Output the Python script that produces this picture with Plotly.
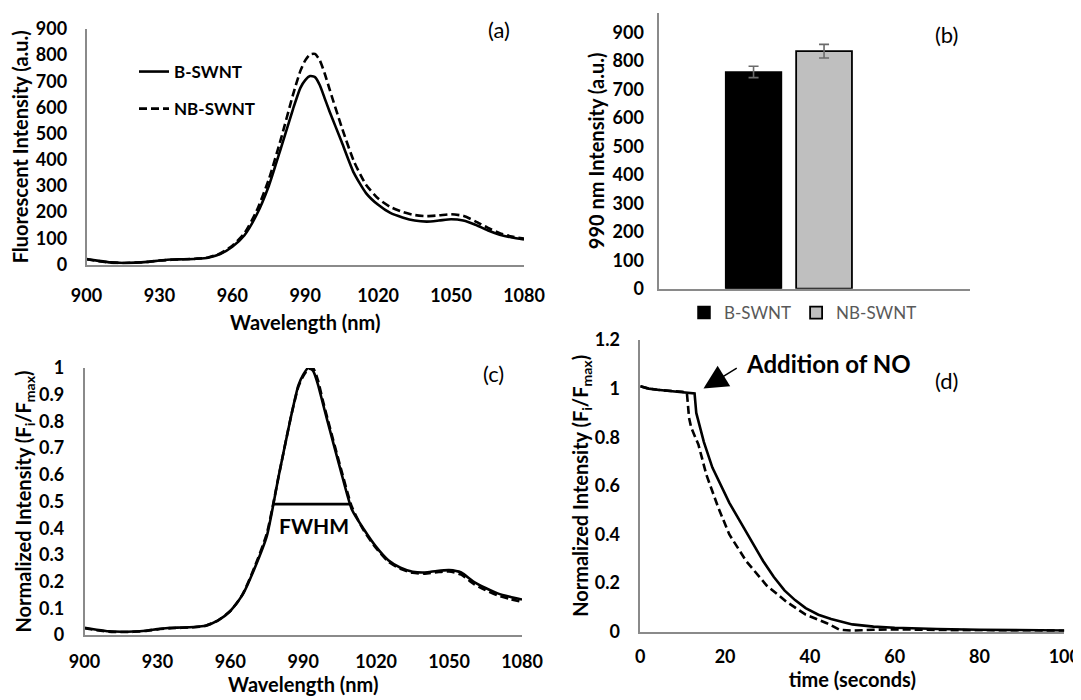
import plotly.graph_objects as go

# ---------------- data ----------------
wavelength_nm = [900, 905, 910, 915, 920, 925, 930, 935, 940, 945, 950, 955, 960, 965, 970, 975, 980, 985,
                 988, 990, 992, 994, 996, 998, 1000, 1005, 1010, 1015, 1020, 1025, 1030, 1035, 1040, 1045,
                 1050, 1055, 1060, 1065, 1070, 1075, 1080]

# (a) fluorescence spectra (a.u.)
a_b_swnt = [21, 14, 8, 6, 7, 10, 15, 19, 20, 22, 26, 40, 68, 112, 190, 300, 445, 595,
            675, 705, 720, 716, 685, 635, 585, 468, 350, 273, 228, 197, 180, 168, 164, 168,
            173, 168, 152, 131, 114, 103, 96]
a_nb_swnt = [20, 13, 7, 6, 7, 10, 15, 18, 20, 22, 27, 42, 72, 120, 205, 325, 480, 650,
             740, 780, 803, 805, 780, 730, 670, 525, 395, 305, 252, 220, 201, 189, 185, 188,
             192, 186, 165, 141, 120, 107, 99]

# (c) normalized spectra (Fi/Fmax)
c_b_swnt = [0.027, 0.020, 0.014, 0.012, 0.013, 0.016, 0.022, 0.027, 0.028, 0.030, 0.036, 0.055, 0.09, 0.15,
            0.25, 0.37, 0.60, 0.82, 0.935, 0.975, 1.0, 0.99, 0.94, 0.87, 0.80, 0.63, 0.47, 0.395, 0.33,
            0.28, 0.252, 0.237, 0.234, 0.240, 0.243, 0.234, 0.200, 0.176, 0.156, 0.143, 0.133]
c_nb_swnt = [0.025, 0.018, 0.012, 0.011, 0.012, 0.015, 0.021, 0.025, 0.027, 0.029, 0.035, 0.055, 0.09, 0.152,
             0.255, 0.38, 0.60, 0.82, 0.93, 0.97, 0.995, 1.0, 0.955, 0.88, 0.81, 0.64, 0.48, 0.39, 0.325,
             0.275, 0.248, 0.233, 0.230, 0.235, 0.238, 0.226, 0.192, 0.168, 0.148, 0.135, 0.124]
fwhm_nm = [978, 1009.5]
fwhm_level = [0.49, 0.49]

# (b) 990 nm intensity
bar_series = ["B-SWNT", "NB-SWNT"]
bar_values = [761, 834]
bar_errors = [20, 24]

# (d) quenching kinetics
time_b = [0, 2, 4, 6, 8, 10, 12, 12.8, 13.2, 14, 15, 17, 19, 21, 23.5, 26, 29, 31.5, 34, 36.5, 39,
          42, 45, 50, 55, 60, 65, 70, 80, 90, 100]
d_b_swnt = [1.01, 1.0, 0.995, 0.992, 0.99, 0.987, 0.983, 0.98, 0.90, 0.85, 0.78, 0.675, 0.60, 0.53, 0.455,
            0.38, 0.29, 0.225, 0.17, 0.13, 0.097, 0.07, 0.052, 0.03, 0.021, 0.016, 0.013, 0.011, 0.008,
            0.006, 0.005]
time_nb = [0, 2, 4, 6, 8, 10, 11, 11.5, 12, 13.7, 15.6, 18.4, 21, 25, 29.8, 34.5, 39, 44, 47, 50, 55,
           60, 70, 80, 90, 100]
d_nb_swnt = [1.01, 1.0, 0.995, 0.992, 0.99, 0.987, 0.98, 0.88, 0.84, 0.77, 0.645, 0.51, 0.40, 0.29, 0.19,
             0.123, 0.07, 0.035, 0.008, 0.004, 0.008, 0.010, 0.007, 0.005, 0.004, 0.004]

wl_ticks = [900, 930, 960, 990, 1020, 1050, 1080]
a_yticks = [0, 100, 200, 300, 400, 500, 600, 700, 800, 900]
c_yticks = [0, 0.1, 0.2, 0.3, 0.4, 0.5, 0.6, 0.7, 0.8, 0.9, 1]
d_xticks = [0, 20, 40, 60, 80, 100]
d_yticks = [0, 0.2, 0.4, 0.6, 0.8, 1, 1.2]

# ---------------- layout helpers ----------------
# the page body has an 8px margin, so the figure is sized to fill the 1081x700 window from (8, 8)
OFF = 8
FW, FH = 1081 - OFF, 700 - OFF
FONT = "Lato, 'Open Sans', sans-serif"


def fx(p):
    return (p - OFF) / FW


def fy(p):
    return 1 - (p - OFF) / FH


LINE_W = 2.6
DASH = "8px,4px"

fig = go.Figure()

# (a)
fig.add_trace(go.Scatter(x=wavelength_nm, y=a_b_swnt, mode="lines", name="B-SWNT",
                         line=dict(color="black", width=LINE_W, shape="spline", smoothing=0.6),
                         xaxis="x", yaxis="y", legend="legend", legendgroup="b"))
fig.add_trace(go.Scatter(x=wavelength_nm, y=a_nb_swnt, mode="lines", name="NB-SWNT",
                         line=dict(color="black", width=LINE_W, dash=DASH, shape="spline", smoothing=0.6),
                         xaxis="x", yaxis="y", legend="legend", legendgroup="nb"))

# (b)
fig.add_trace(go.Bar(x=[0], y=[bar_values[0]], name=bar_series[0],
                     marker=dict(color="black", line=dict(color="black", width=1.5)),
                     error_y=dict(type="data", array=[bar_errors[0]], color="#6b6b6b", thickness=1.6, width=5),
                     xaxis="x2", yaxis="y2", legend="legend2"))
fig.add_trace(go.Bar(x=[0], y=[bar_values[1]], name=bar_series[1],
                     marker=dict(color="#bfbfbf", line=dict(color="black", width=1.8)),
                     error_y=dict(type="data", array=[bar_errors[1]], color="#6b6b6b", thickness=1.6, width=5),
                     xaxis="x2", yaxis="y2", legend="legend2"))

# (c)
fig.add_trace(go.Scatter(x=wavelength_nm, y=c_nb_swnt, mode="lines", name="NB-SWNT",
                         line=dict(color="black", width=LINE_W, dash=DASH, shape="spline", smoothing=0.6),
                         xaxis="x3", yaxis="y3", showlegend=False))
fig.add_trace(go.Scatter(x=wavelength_nm, y=c_b_swnt, mode="lines", name="B-SWNT",
                         line=dict(color="black", width=LINE_W, shape="spline", smoothing=0.6),
                         xaxis="x3", yaxis="y3", showlegend=False))
fig.add_trace(go.Scatter(x=fwhm_nm, y=fwhm_level, mode="lines", name="FWHM",
                         line=dict(color="black", width=2.6),
                         xaxis="x3", yaxis="y3", showlegend=False))

# (d)
fig.add_trace(go.Scatter(x=time_nb, y=d_nb_swnt, mode="lines", name="NB-SWNT",
                         line=dict(color="black", width=LINE_W, dash=DASH),
                         xaxis="x4", yaxis="y4", showlegend=False))
fig.add_trace(go.Scatter(x=time_b, y=d_b_swnt, mode="lines", name="B-SWNT",
                         line=dict(color="black", width=LINE_W),
                         xaxis="x4", yaxis="y4", showlegend=False))

tickfont = dict(family=FONT, size=18, color="black", weight="bold")
titlefont = dict(family=FONT, size=20, color="black", weight="bold")
axis_common = dict(showline=True, linecolor="#8a8a8a", linewidth=1.5, showgrid=False, zeroline=False,
                   ticks="", tickfont=tickfont, fixedrange=True, automargin=False)

fig.update_layout(
    template="none",
    width=FW, height=FH,
    margin=dict(l=0, r=0, t=0, b=0, autoexpand=False),
    paper_bgcolor="white", plot_bgcolor="white",
    font=dict(family=FONT, color="black"),
    hovermode=False,
    barmode="group", bargap=0.0924, bargroupgap=0.2085,
    xaxis=dict(axis_common, domain=[fx(86.5), fx(524)], range=[900, 1080], tickvals=wl_ticks,
               ticklabelstandoff=14, anchor="y",
               title=dict(text="Wavelength (nm)", font=titlefont, standoff=11)),
    yaxis=dict(axis_common, domain=[fy(264.5), fy(29)], range=[0, 900], tickvals=a_yticks,
               ticklabelstandoff=14, anchor="x",
               title=dict(text="Fluorescent Intensity (a.u.)", font=titlefont, standoff=4)),
    xaxis2=dict(axis_common, domain=[fx(659.3), fx(970)], range=[-0.8336, 1.1664], showticklabels=False,
                anchor="y2"),
    yaxis2=dict(axis_common, domain=[fy(288.7), fy(13)], range=[0, 968], tickvals=a_yticks,
                ticklabelstandoff=10, anchor="x2",
                title=dict(text="990 nm Intensity (a.u.)", font=titlefont, standoff=3)),
    xaxis3=dict(axis_common, domain=[fx(84.5), fx(522)], range=[900, 1080], tickvals=wl_ticks,
                ticklabelstandoff=10, anchor="y3",
                title=dict(text="Wavelength (nm)", font=titlefont, standoff=0)),
    yaxis3=dict(axis_common, domain=[fy(635), fy(368)], range=[0, 1], tickvals=c_yticks,
                ticklabelstandoff=15, anchor="x3",
                title=dict(text="Normalized Intensity (F<sub>i</sub>/F<sub>max</sub>)", font=titlefont,
                           standoff=2)),
    xaxis4=dict(axis_common, domain=[fx(640.3), fx(1064.3)], range=[0, 100], tickvals=d_xticks,
                ticklabelstandoff=8, anchor="y4",
                title=dict(text="time (seconds)", font=titlefont, standoff=0)),
    yaxis4=dict(axis_common, domain=[fy(631.7), fy(340)], range=[0, 1.2], tickvals=d_yticks,
                ticklabelstandoff=15, anchor="x4",
                title=dict(text="Normalized Intensity (F<sub>i</sub>/F<sub>max</sub>)", font=titlefont,
                           standoff=0)),
    legend=dict(x=fx(134), y=fy(54), xanchor="left", yanchor="top", bgcolor="rgba(0,0,0,0)",
                font=dict(family=FONT, size=17, color="black", weight="bold"), tracegroupgap=12,
                itemwidth=30),
    legend2=dict(x=fx(684), y=fy(313), xanchor="left", yanchor="middle", orientation="h",
                 bgcolor="rgba(0,0,0,0)", font=dict(family=FONT, size=17, color="#595959")),
    showlegend=True,
)

label_font = dict(family=FONT, size=22, color="black")
annotations = [
    dict(text="(a)", x=fx(499), y=fy(30), xref="paper", yref="paper", showarrow=False,
         xanchor="center", yanchor="middle", font=label_font),
    dict(text="(b)", x=fx(946), y=fy(35), xref="paper", yref="paper", showarrow=False,
         xanchor="center", yanchor="middle", font=label_font),
    dict(text="(c)", x=fx(494), y=fy(373), xref="paper", yref="paper", showarrow=False,
         xanchor="center", yanchor="middle", font=label_font),
    dict(text="(d)", x=fx(946), y=fy(380), xref="paper", yref="paper", showarrow=False,
         xanchor="center", yanchor="middle", font=label_font),
    dict(text="<b>FWHM</b>", x=994.3, y=0.409, xref="x3", yref="y3", showarrow=False,
         xanchor="center", yanchor="middle", font=dict(family=FONT, size=21, color="black")),
    dict(text="<b>Addition of NO</b>", x=44.5, y=1.104, xref="x4", yref="y4", showarrow=False,
         xanchor="center", yanchor="middle", font=dict(family=FONT, size=24, color="black")),
    dict(text="", x=14.9, y=1.0, xref="x4", yref="y4", ax=23.1, ay=1.088, axref="x4", ayref="y4",
         showarrow=True, arrowhead=2, arrowsize=3.2, arrowwidth=1.5, arrowcolor="black", standoff=0),
]
fig.update_layout(annotations=annotations)

fig.write_html("out.html")
